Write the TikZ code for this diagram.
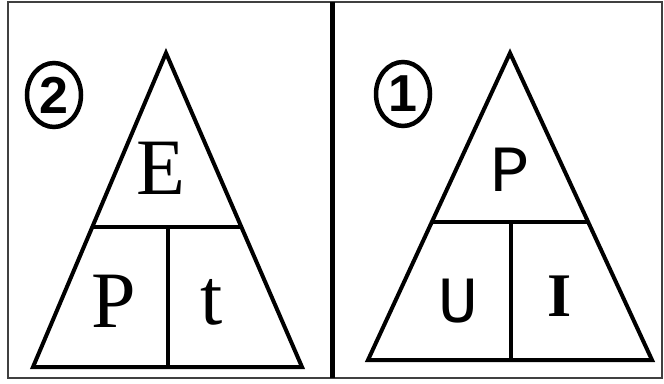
\documentclass[tikz,border=0pt]{standalone}
\usepackage{fontspec}
\setmainfont{Liberation Serif}
\newfontfamily\monofnt{Liberation Mono}
\newfontfamily\sansfnt{Liberation Sans}
\usetikzlibrary{calc,shapes.geometric}
\begin{document}
\begin{tikzpicture}[x=1pt,y=-1pt,
  tri/.style={line width=4pt, line join=miter},
  frameline/.style={line width=1.6pt, draw=black!75},
  divider/.style={line width=5pt},
  ltr/.style={font=\fontsize{80}{80}\selectfont, inner sep=0pt},
  rtr/.style={font=\monofnt\fontsize{66}{66}\selectfont, inner sep=0pt},
  rtrI/.style={font=\bfseries\fontsize{62}{62}\selectfont, inner sep=0pt},
  num/.style={ellipse, draw, line width=4.5pt, minimum width=54pt, minimum height=64pt, inner sep=0pt, font=\sansfnt\bfseries\fontsize{52}{52}\selectfont}]
\useasboundingbox (0,0) rectangle (664,383);
\draw[frameline] (8,2) rectangle (662,378);
\draw[divider] (332,2) -- (332,378);
% left triangle
\coordinate (LA) at (166,53);
\coordinate (LB) at (33,367);
\coordinate (LC) at (302,367);
\draw[tri] (LA) -- (LB) -- (LC) -- cycle;
\coordinate (LM1) at ($(LA)!0.554!(LB)$);
\coordinate (LM2) at ($(LA)!0.554!(LC)$);
\draw[tri] (LM1) -- (LM2);
\coordinate (LV1) at (168,227);
\coordinate (LV2) at (168,367);
\draw[tri] (LV1) -- (LV2);
\node[ltr] (E) at (161,168) {E};
\node[ltr] (LP) at (114,301) {P};
\node[ltr] (t) at (212,302) {t};
\node[num] (n2) at (54,95) {2};
% right triangle
\coordinate (RA) at (510,53);
\coordinate (RB) at (368,360);
\coordinate (RC) at (652,360);
\draw[tri] (RA) -- (RB) -- (RC) -- cycle;
\coordinate (RM1) at ($(RA)!0.55!(RB)$);
\coordinate (RM2) at ($(RA)!0.55!(RC)$);
\draw[tri] (RM1) -- (RM2);
\coordinate (RV1) at (511,222);
\coordinate (RV2) at (511,360);
\draw[tri] (RV1) -- (RV2);
\node[rtr] (RP) at (510,170) {P};
\node[rtr] (U) at (458,301) {U};
\node[rtrI] (I) at (560,296) {I};
\node[num] (n1) at (403,94) {1};
\end{tikzpicture}
\end{document}
